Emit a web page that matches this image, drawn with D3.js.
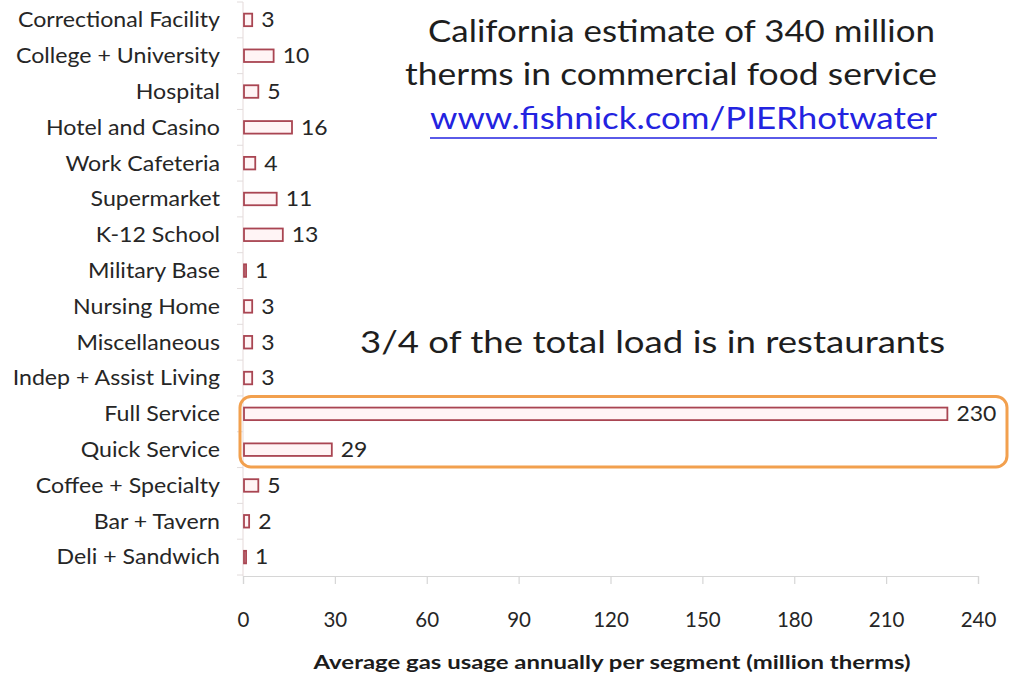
<!DOCTYPE html>
<html>
<head>
<meta charset="utf-8">
<script src="https://cdn.jsdelivr.net/npm/d3@7"></script>
<style>
  html, body { margin: 0; padding: 0; background: #fff; }
  svg { display: block; font-family: Lato, "Open Sans", sans-serif; }
</style>
</head>
<body>
<svg id="chart" width="1012" height="676"></svg>
<script>
// Food service segments, top to bottom
const categories = [
  "Correctional Facility", "College + University", "Hospital", "Hotel and Casino",
  "Work Cafeteria", "Supermarket", "K-12 School", "Military Base", "Nursing Home",
  "Miscellaneous", "Indep + Assist Living", "Full Service", "Quick Service",
  "Coffee + Specialty", "Bar + Tavern", "Deli + Sandwich"
];
// Annual gas usage per segment, million therms
const usage = [3, 10, 5, 16, 4, 11, 13, 1, 3, 3, 3, 230, 29, 5, 2, 1];
const xTicks = [0, 30, 60, 90, 120, 150, 180, 210, 240];
const highlighted = ["Full Service", "Quick Service"];

const svg = d3.select("#chart");
const textColor = "#262626";
const labelStretch = 1.13;

const x = d3.scaleLinear().domain([0, 240]).range([243, 978]);
const y = d3.scaleBand().domain(categories).range([2, 575])
  .paddingInner(0.65).paddingOuter(0.325);

// Vertical category axis: faint line with ticks between bands
const yAxisG = svg.append("g");
yAxisG.append("line")
  .attr("x1", x(0)).attr("x2", x(0))
  .attr("y1", 2).attr("y2", 576)
  .attr("stroke", "#eadfe0").attr("stroke-width", 1.2);
const boundaries = d3.range(categories.length + 1).map(i => 2 + i * y.step());
yAxisG.selectAll("line.tick").data(boundaries).join("line")
  .attr("class", "tick")
  .attr("x1", x(0) - 6).attr("x2", x(0))
  .attr("y1", d => d).attr("y2", d => d)
  .attr("stroke", "#e2dcdc").attr("stroke-width", 1);

// Category labels (slightly widened glyphs)
svg.append("g").selectAll("text").data(categories).join("text")
  .attr("transform", d => `translate(220,${y(d) + y.bandwidth() / 2}) scale(${labelStretch},1)`)
  .attr("dy", "0.36em")
  .attr("text-anchor", "end")
  .attr("font-size", 20.5)
  .attr("fill", textColor)
  .text(d => d);

// Horizontal value axis
const xAxis = d3.axisBottom(x).tickValues(xTicks).tickSize(8).tickPadding(28);
const xAxisG = svg.append("g")
  .attr("transform", "translate(0,576)")
  .call(xAxis);
xAxisG.select(".domain").attr("stroke", "#d6d6d6").attr("stroke-width", 1.2);
xAxisG.selectAll(".tick line").attr("stroke", "#d6d6d6").attr("stroke-width", 1.2);
xAxisG.selectAll(".tick text")
  .attr("font-size", 20.5)
  .attr("font-family", "Lato, 'Open Sans', sans-serif")
  .attr("fill", textColor);

svg.append("text")
  .attr("x", 612).attr("y", 669)
  .attr("text-anchor", "middle")
  .attr("font-size", 19)
  .attr("font-weight", "bold")
  .attr("fill", "#1c1c1c")
  .attr("textLength", 597)
  .attr("lengthAdjust", "spacingAndGlyphs")
  .text("Average gas usage annually per segment (million therms)");

// Bars
const bars = categories.map((c, i) => ({ name: c, value: usage[i] }));
svg.append("g").selectAll("rect").data(bars).join("rect")
  .attr("x", x(0) + 1)
  .attr("y", d => y(d.name))
  .attr("width", d => Math.max(x(d.value) - x(0) - 1, 1.5))
  .attr("height", y.bandwidth())
  .attr("fill", "#fff4f5")
  .attr("stroke", "#a94552")
  .attr("stroke-width", 1.8);

// Value labels
svg.append("g").selectAll("text").data(bars).join("text")
  .attr("transform", d => `translate(${x(d.value) + 9},${y(d.name) + y.bandwidth() / 2}) scale(1.12,1)`)
  .attr("dy", "0.36em")
  .attr("font-size", 20.5)
  .attr("fill", textColor)
  .text(d => d.value);

// Highlight around restaurant segments
const hTop = y(highlighted[0]);
const hBottom = y(highlighted[highlighted.length - 1]) + y.bandwidth();
svg.append("rect")
  .attr("x", 240).attr("y", hTop - 11)
  .attr("width", 767).attr("height", hBottom - hTop + 22)
  .attr("rx", 11).attr("ry", 11)
  .attr("fill", "none")
  .attr("stroke", "#f2a04e")
  .attr("stroke-width", 3);

// Annotations
const note = svg.append("g").attr("fill", "#1e1e1e").attr("font-size", 31);
note.append("text").attr("x", 428).attr("y", 42)
  .attr("textLength", 507).attr("lengthAdjust", "spacingAndGlyphs")
  .text("California estimate of 340 million");
note.append("text").attr("x", 405).attr("y", 85)
  .attr("textLength", 532).attr("lengthAdjust", "spacingAndGlyphs")
  .text("therms in commercial food service");
note.append("text").attr("x", 430).attr("y", 129)
  .attr("fill", "#2323e0")
  .attr("textLength", 507).attr("lengthAdjust", "spacingAndGlyphs")
  .text("www.fishnick.com/PIERhotwater");
note.append("line")
  .attr("x1", 430).attr("x2", 937).attr("y1", 138).attr("y2", 138)
  .attr("stroke", "#2323e0").attr("stroke-width", 1.6);
note.append("text").attr("x", 360).attr("y", 353)
  .attr("textLength", 585).attr("lengthAdjust", "spacingAndGlyphs")
  .text("3/4 of the total load is in restaurants");
</script>
</body>
</html>
